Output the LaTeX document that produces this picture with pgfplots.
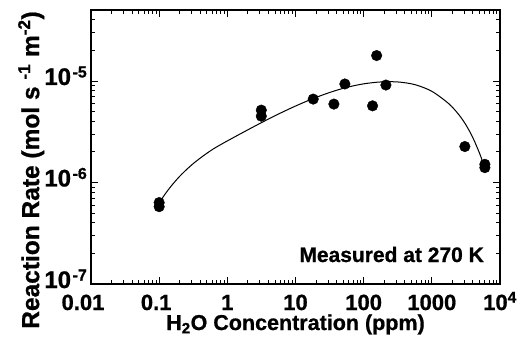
\documentclass[border=0pt]{standalone}
\usepackage{fontspec}
\setmainfont{Liberation Sans}[BoldFeatures={FakeBold=0.8}]
\usepackage{pgfplots}
\pgfplotsset{compat=1.18}
\newcommand\sps[1]{\kern1.5bp\raisebox{7.5bp}{\fontsize{16bp}{16bp}\selectfont #1}}
\begin{document}
\begin{tikzpicture}
\begin{axis}[
  scale only axis, width=409bp, height=274bp,
  xmode=log, ymode=log,
  xmin=0.01, xmax=1e4, ymin=1e-7, ymax=5e-5,
  xtick={0.01,0.1,1,10,100,1000,10000},
  xticklabels={\hspace*{-16bp}0.01,\hspace*{-6bp}0.1,1,10,100,1000,10\textsuperscript{4}},
  ytick={1e-7,1e-6,1e-5},
  yticklabels={10\sps{-7},10\sps{-6},10\sps{-5}},
  minor xtick={0.02,0.03,0.04,0.05,0.06,0.07,0.08,0.09,0.2,0.3,0.4,0.5,0.6,0.7,0.8,0.9,2,3,4,5,6,7,8,9,20,30,40,50,60,70,80,90,200,300,400,500,600,700,800,900,2000,3000,4000,5000,6000,7000,8000,9000},
  minor ytick={2e-7,3e-7,4e-7,5e-7,6e-7,7e-7,8e-7,9e-7,2e-6,3e-6,4e-6,5e-6,6e-6,7e-6,8e-6,9e-6,2e-5,3e-5,4e-5},
  tick align=inside,
  major tick length=7bp, minor tick length=4bp,
  axis line style={line width=1.1bp},
  every tick/.style={black, line width=0.9bp},
  xticklabel style={font=\bfseries\fontsize{22bp}{24bp}\selectfont, anchor=base, inner sep=0pt, yshift=-26bp},
  yticklabel style={font=\bfseries\fontsize{24bp}{26bp}\selectfont, anchor=base east, inner sep=0pt, xshift=-4bp, yshift=-4bp},
  xlabel={H\textsubscript{2}O Concentration (ppm)},
  xlabel style={font=\bfseries\fontsize{21.5bp}{24bp}\selectfont, at={(axis description cs:0.5,0)}, anchor=base, inner sep=0pt, yshift=-46bp},
  ylabel={Reaction Rate (mol s \textsuperscript{-1} m\textsuperscript{-2})},
  ylabel style={font=\bfseries\fontsize{24.5bp}{27bp}\selectfont, at={(ticklabel cs:0.416)}, anchor=near ticklabel, inner sep=0pt},
]
\addplot[black, line width=1bp, smooth] coordinates {
  (0.1,6.31e-7) (0.1259,7.91e-7) (0.1585,9.64e-7) (0.1995,1.148e-6) (0.2512,1.338e-6)
  (0.3162,1.535e-6) (0.3981,1.734e-6) (0.5012,1.941e-6) (0.631,2.153e-6) (0.794,2.355e-6)
  (1,2.567e-6) (1.778,3.166e-6) (3.162,3.885e-6) (5.623,4.724e-6) (10,5.662e-6)
  (17.78,6.673e-6) (31.62,7.70e-6) (56.23,8.645e-6) (100,9.37e-6) (177.8,9.78e-6)
  (316.2,9.78e-6) (562.3,9.21e-6) (1000,7.91e-6) (1778,5.96e-6) (2512,4.62e-6)
  (3162,3.694e-6) (3981,2.782e-6) (5012,1.941e-6) (5623,1.568e-6)
};
\addplot[only marks, mark=*, mark size=5.3bp, black] coordinates {
  (0.1,6.34e-7) (0.1,5.78e-7) (3.15,5.16e-6) (3.15,4.5e-6) (18.2,6.63e-6)
  (36.6,5.92e-6) (53,9.34e-6) (135,5.69e-6) (155,1.78e-5) (212,9.12e-6)
  (3050,2.26e-6) (6000,1.51e-6) (6000,1.40e-6)
};
\node[anchor=base east, inner sep=0pt, font=\bfseries\fontsize{21bp}{24bp}\selectfont] at (axis description cs:0.961,0.0803) {Measured at 270 K};
\end{axis}
\pgfresetboundingbox
\path[use as bounding box] ([shift={(-91bp,-53bp)}]current axis.south west) rectangle ([shift={(19bp,10bp)}]current axis.north east);
\end{tikzpicture}
\end{document}
